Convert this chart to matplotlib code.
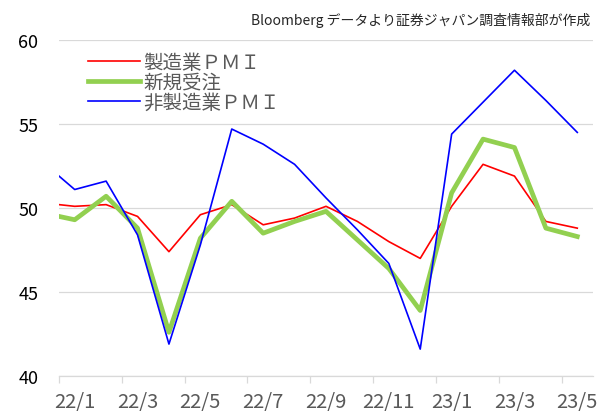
import matplotlib
matplotlib.use("Agg")
import matplotlib.pyplot as plt
import numpy as np

plt.rcParams['font.family'] = ['Noto Sans CJK JP', 'DejaVu Sans']

# Data (monthly, 21/12 - 23/5); 21/12 lies just outside the visible range
months = ['21/12', '22/1', '22/2', '22/3', '22/4', '22/5', '22/6', '22/7', '22/8',
          '22/9', '22/10', '22/11', '22/12', '23/1', '23/2', '23/3', '23/4', '23/5']
mfg_pmi = [50.3, 50.1, 50.2, 49.5, 47.4, 49.6, 50.2, 49.0, 49.4,
           50.1, 49.2, 48.0, 47.0, 50.1, 52.6, 51.9, 49.2, 48.8]
new_orders = [49.7, 49.3, 50.7, 48.8, 42.6, 48.2, 50.4, 48.5, 49.2,
              49.8, 48.1, 46.4, 43.9, 50.9, 54.1, 53.6, 48.8, 48.3]
nonmfg_pmi = [52.7, 51.1, 51.6, 48.4, 41.9, 47.8, 54.7, 53.8, 52.6,
              50.6, 48.7, 46.7, 41.6, 54.4, 56.3, 58.2, 56.4, 54.5]
series_names = ['製造業ＰＭＩ', '新規受注', '非製造業ＰＭＩ']
y_ticks = [40, 45, 50, 55, 60]
source_text = 'Bloomberg データより証券ジャパン調査情報部が作成'

fig = plt.figure(figsize=(6.12, 4.14), dpi=100)
ax = fig.add_axes([59/612, 1-377/414, (593-59)/612, (377-41)/414])

x = np.arange(len(months)) - 1  # 22/1 -> 0

ax.plot(x, mfg_pmi, color='#FF0000', lw=1.2, label=series_names[0], zorder=3)
ax.plot(x, new_orders, color='#92D050', lw=3.4, label=series_names[1], zorder=3)
ax.plot(x, nonmfg_pmi, color='#0000FF', lw=1.2, label=series_names[2], zorder=3)

ax.set_xlim(-0.5, 16.5)
ax.set_ylim(40, 60)

ax.set_yticks(y_ticks)
ax.set_yticklabels([str(v) for v in y_ticks])
ax.tick_params(axis='y', length=0, pad=15, labelsize=13, labelcolor='#000000')
ax.yaxis.grid(True, color='#D9D9D9', lw=0.9)
ax.set_axisbelow(True)

# labels at category centers (every 2 months), tick marks at boundaries
label_pos = list(range(0, 17, 2))
ax.set_xticks(label_pos)
ax.set_xticklabels([months[i + 1] for i in label_pos])
ax.tick_params(axis='x', which='major', length=0, pad=11, labelsize=14.5, labelcolor='#595959')
ax.set_xticks([p - 0.5 for p in label_pos], minor=True)
ax.tick_params(axis='x', which='minor', length=5, width=0.9, color='#D9D9D9')

for s in ['left', 'right', 'top']:
    ax.spines[s].set_visible(False)
ax.spines['bottom'].set_color('#D9D9D9')
ax.spines['bottom'].set_linewidth(0.9)

leg = ax.legend(loc='upper left', bbox_to_anchor=(0.054, 0.964), frameon=False,
                fontsize=14, handlelength=2.7, handletextpad=0.15,
                labelspacing=-0.07, borderpad=0, borderaxespad=0)
for t in leg.get_texts():
    t.set_color('#595959')

fig.text(590/612, 1-20/414, source_text, ha='right', va='center',
         fontsize=10, color='#262626')

fig.savefig('out.png', dpi=100)
